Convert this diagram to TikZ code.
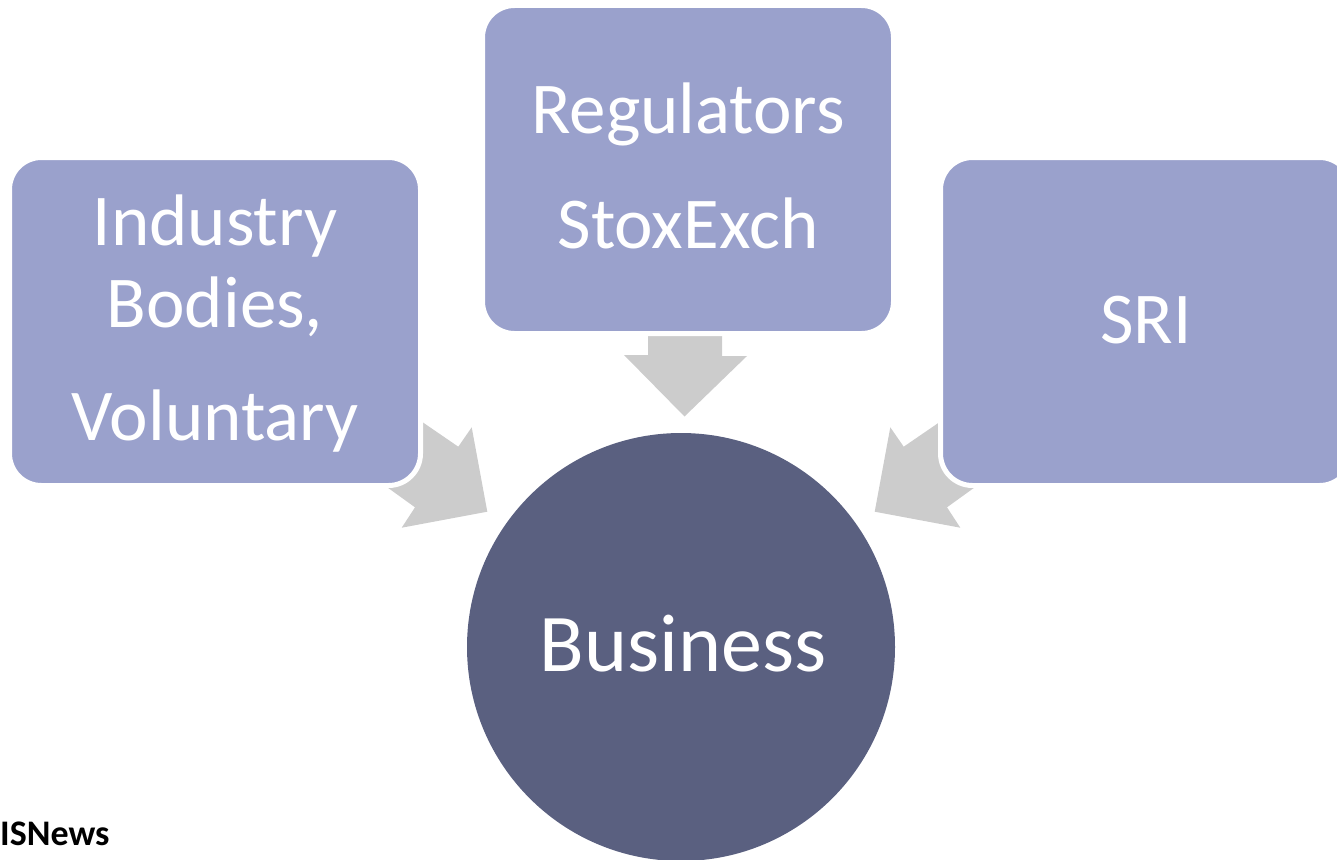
\documentclass[tikz,border=0pt]{standalone}
\usepackage{fontspec}
\setmainfont{Carlito}
\begin{document}
\begin{tikzpicture}[x=1pt,y=-1pt,
  boxfill/.style={fill=lav,draw=white,line width=5pt,rounded corners=32pt,
    minimum width=411pt,minimum height=328pt,inner sep=0pt,rectangle},
  blockarrow/.style={fill=arrowgrey,draw=none},
  lbl/.style={text=white,inner sep=0pt,anchor=base,font=\fontsize{73}{80}\selectfont},
]
\definecolor{lav}{RGB}{154,161,204}
\definecolor{hub}{RGB}{90,96,128}
\definecolor{arrowgrey}{RGB}{204,204,204}
\useasboundingbox (0,0) rectangle (1337,859);
\clip (0,0) rectangle (1337,859);

% block arrows pointing at the hub (shafts run under the boxes)
\fill[blockarrow] (648,320) -- (722,320) -- (722,356) -- (747,356)
  -- (684.5,416.5) -- (624,355) -- (648,355) -- cycle;
\fill[blockarrow] (390,400) -- (423.3,422.7) -- (458.3,446.7) -- (471.7,427.3)
  -- (487.3,511.7) -- (401.7,527.7) -- (415,507.3) -- (390,489.3) -- (357,466) -- cycle;
\fill[blockarrow] (972,400) -- (938.7,422.7) -- (903.7,446.7) -- (890.3,427.3)
  -- (874.7,511.7) -- (960.3,527.7) -- (947,507.3) -- (972,489.3) -- (1005,466) -- cycle;

% source boxes
\node[boxfill] (ind) at (215,321.5) {};
\node[boxfill] (reg) at (688,169.5) {};
\node[boxfill] (sri) at (1146,321.5) {};

% hub
\node[circle,fill=hub,minimum size=428pt,inner sep=0pt] (biz) at (681,647) {};

% labels
\node[lbl] (t1) at (215,245) {Industry};
\node[lbl] (t2) at (215,327) {Bodies,};
\node[lbl] (t3) at (215,440) {Voluntary};
\node[lbl] (t4) at (688,133.3) {Regulators};
\node[lbl] (t5) at (688,248.3) {StoxExch};
\node[lbl] (t6) at (1146,343.3) {SRI};
\node[lbl,font=\fontsize{82}{90}\selectfont] (t7) at (683,671.7) {Business};
\node[inner sep=0pt,anchor=base west,font=\bfseries\fontsize{36}{40}\selectfont] (src) at (0,845) {ISNews};
\end{tikzpicture}
\end{document}
